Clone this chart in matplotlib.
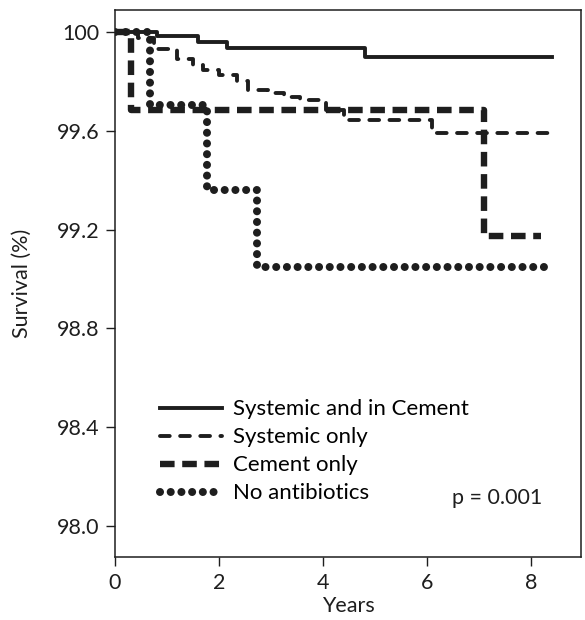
import matplotlib
matplotlib.use("Agg")
import matplotlib.pyplot as plt

plt.rcParams['font.family'] = ['Lato', 'DejaVu Sans']
plt.rcParams['lines.scale_dashes'] = False

# Kaplan-Meier style survival curves (years, survival %)
t_both = [0, 0.8, 1.6, 2.15, 4.8, 8.4]
s_both = [100, 99.985, 99.96, 99.937, 99.90, 99.90]

t_sys = [0, 0.45, 0.75, 1.2, 1.5, 1.7, 2.0, 2.35, 2.55, 2.95, 3.25, 3.55, 4.05, 4.4, 6.1, 8.4]
s_sys = [100, 99.975, 99.93, 99.89, 99.865, 99.845, 99.825, 99.80, 99.765, 99.755,
         99.735, 99.725, 99.685, 99.645, 99.59, 99.59]

t_cem = [0, 0.3, 7.1, 8.2]
s_cem = [100, 99.685, 99.175, 99.175]

t_none = [0, 0.67, 1.77, 2.73, 8.25]
s_none = [100, 99.705, 99.36, 99.05, 99.05]

labels = ["Systemic and in Cement", "Systemic only", "Cement only", "No antibiotics"]
xticks = [0, 2, 4, 6, 8]
yticks = [98.0, 98.4, 98.8, 99.2, 99.6, 100.0]
ytick_labels = ["98.0", "98.4", "98.8", "99.2", "99.6", "100"]

ink = '#1e1e1e'

fig = plt.figure(figsize=(5.85, 6.2), dpi=100)
ax = fig.add_axes([0.1966, 0.1016, 0.7966, 0.8823])

ax.step(t_both, s_both, where='post', color=ink, lw=2.8, label=labels[0])
ax.step(t_sys, s_sys, where='post', color=ink, lw=2.8, dashes=(7, 7.5),
        dash_capstyle='round', label=labels[1])
ax.step(t_cem, s_cem, where='post', color=ink, lw=4.6, dashes=(10.5, 5.5),
        dash_capstyle='butt', label=labels[2])
ax.step(t_none, s_none, where='post', color=ink, lw=5.8, dashes=(0.01, 7.7),
        dash_capstyle='round', label=labels[3])

ax.set_xlim(0, 8.96)
ax.set_ylim(97.875, 100.089)
ax.set_xticks(xticks)
ax.set_xticklabels([str(x) for x in xticks])
ax.set_yticks(yticks)
ax.set_yticklabels(ytick_labels)
ax.tick_params(axis='both', direction='out', length=6.5, width=1, labelsize=15.5,
               colors=ink, pad=5)
for sp in ax.spines.values():
    sp.set_linewidth(1.1)
    sp.set_color(ink)

ax.set_xlabel("Years", fontsize=15.5, color=ink, labelpad=2)
ax.set_ylabel("Survival (%)", fontsize=15.5, color=ink, labelpad=18)

ax.legend(loc='upper left', bbox_to_anchor=(0.0966, 0.288), frameon=False,
          fontsize=16, handlelength=2.8, handletextpad=0.5, labelspacing=0.36,
          borderpad=0, borderaxespad=0)

ax.text(0.916, 0.108, "p = 0.001", transform=ax.transAxes, ha='right', va='center',
        fontsize=15.5, color=ink)

fig.savefig("out.png", dpi=100)
